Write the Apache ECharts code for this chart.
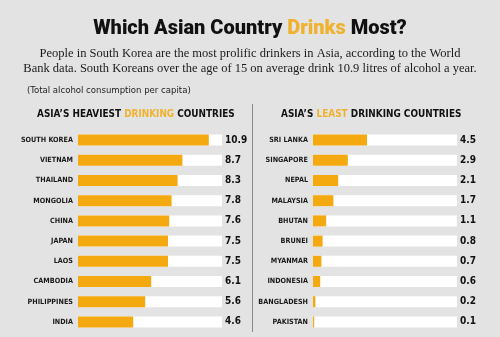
<!DOCTYPE html>
<html><head><meta charset="utf-8">
<script src="https://cdn.jsdelivr.net/npm/echarts@6/dist/echarts.min.js"></script>
<style>html,body{margin:0;padding:0;background:#e3e3e3}#c{width:500px;height:337px}</style>
</head><body><div id="c"></div>
<script>
const heavyCountries = ['SOUTH KOREA','VIETNAM','THAILAND','MONGOLIA','CHINA','JAPAN','LAOS','CAMBODIA','PHILIPPINES','INDIA'];
const heavyValues = [10.9, 8.7, 8.3, 7.8, 7.6, 7.5, 7.5, 6.1, 5.6, 4.6];
const leastCountries = ['SRI LANKA','SINGAPORE','NEPAL','MALAYSIA','BHUTAN','BRUNEI','MYANMAR','INDONESIA','BANGLADESH','PAKISTAN'];
const leastValues = [4.5, 2.9, 2.1, 1.7, 1.1, 0.8, 0.7, 0.6, 0.2, 0.1];

const ORANGE = '#f5a911';
const COND = '"DejaVu Sans Condensed","Liberation Sans Narrow",sans-serif';
const chart = echarts.init(document.getElementById('c'), null, {renderer:'canvas'});

function yCat(gi, data){
  return {type:'category', gridIndex:gi, data:data, inverse:true,
    axisLine:{show:false}, axisTick:{show:false},
    axisLabel:{color:'#1a1a1a', fontFamily:COND, fontWeight:'bold', fontSize:7.2, margin:5}};
}
function yVal(gi, vals){
  return {type:'category', gridIndex:gi, position:'right', data:vals.map(v=>v.toFixed(1)), inverse:true,
    axisLine:{show:false}, axisTick:{show:false},
    axisLabel:{color:'#111', fontFamily:COND, fontWeight:'bold', fontSize:10, margin:3, align:'left'}};
}
function xVal(gi){
  return {type:'value', gridIndex:gi, min:0, max:12, show:false, splitLine:{show:false}};
}
function bars(gi, vals){
  return {type:'bar', xAxisIndex:gi, yAxisIndex:gi*2, data:vals, barWidth:11,
    itemStyle:{color:ORANGE}, showBackground:true, backgroundStyle:{color:'#ffffff'},
    silent:true, animation:false};
}
const hdr = {fontFamily:COND, fontWeight:'bold', fontSize:11, fill:'#111'};
const hdrO = Object.assign({}, hdr, {fill:'#f0b22e'});

chart.setOption({
  backgroundColor:'#e3e3e3',
  animation:false,
  title:[
    {text:'{a|Which Asian Country }{b|Drinks}{a| Most?}', left:'center', top:14,
      textStyle:{rich:{
        a:{fontFamily:'Roboto,sans-serif', fontWeight:900, fontSize:20, color:'#111'},
        b:{fontFamily:'Roboto,sans-serif', fontWeight:900, fontSize:20, color:'#f0b22e'}}}},
    {text:'People in South Korea are the most prolific drinkers in Asia, according to the World\nBank data. South Koreans over the age of 15 on average drink 10.9 litres of alcohol a year.',
      left:'center', top:41,
      textStyle:{fontFamily:'"Liberation Serif","DejaVu Serif",serif', fontWeight:'normal', fontSize:12.5, lineHeight:15, color:'#1a1a1a', align:'center'}},
    {text:'(Total alcohol consumption per capita)', left:22, top:81,
      textStyle:{fontFamily:COND, fontWeight:'normal', fontSize:9.5, color:'#222'}}
  ],
  graphic:[
    {type:'line', shape:{x1:252.5, y1:104, x2:252.5, y2:332}, style:{stroke:'#8a8a8a', lineWidth:1}},
    {type:'text', x:37, y:114, scaleX:0.9, style:{text:'{a|ASIA\u2019S HEAVIEST }{b|DRINKING}{a| COUNTRIES}', rich:{a:hdr, b:hdrO}, verticalAlign:'middle', align:'left'}},
    {type:'text', x:281, y:114, scaleX:0.9, style:{text:'{a|ASIA\u2019S }{b|LEAST}{a| DRINKING COUNTRIES}', rich:{a:hdr, b:hdrO}, verticalAlign:'middle', align:'left'}}
  ],
  grid:[
    {left:78, width:144, top:130, height:202},
    {left:313, width:144, top:130, height:202}
  ],
  xAxis:[xVal(0), xVal(1)],
  yAxis:[yCat(0, heavyCountries), yVal(0, heavyValues), yCat(1, leastCountries), yVal(1, leastValues)],
  series:[bars(0, heavyValues), bars(1, leastValues)]
});
</script></body></html>
